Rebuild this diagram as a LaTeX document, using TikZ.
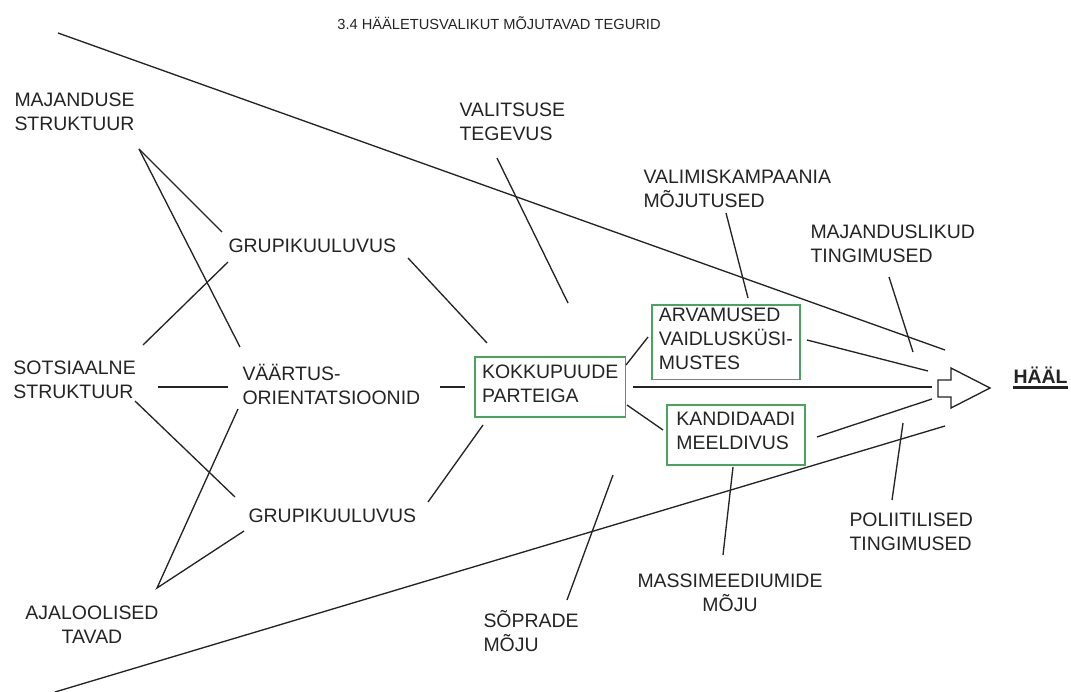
\documentclass[tikz,border=0pt]{standalone}
\usepackage{fontspec}
\setmainfont{Liberation Sans}
\definecolor{boxgreen}{RGB}{72,164,96}
\definecolor{inkgray}{RGB}{36,36,36}
\tikzset{every picture/.style={line width=0.75pt}}
\tikzset{
  lbl/.style={anchor=north west, inner sep=0pt, align=left, text=inkgray,
    font=\fontsize{14.6}{18}\selectfont,
    execute at begin node=\strut, execute at end node=\strut},
  gbox/.style={lbl, draw=boxgreen, line width=1.3pt},
  conn/.style={draw=inkgray, line width=1pt}
}

\begin{document}
\begin{tikzpicture}[x=0.75pt,y=0.75pt,yscale=-1,xscale=1]
	\useasboundingbox (0,0) rectangle (1071,692);
	
	% Title
	\draw (499,30) node [anchor=base, text=inkgray, font=\fontsize{11}{13}\selectfont] (title) {3.4 HÄÄLETUSVALIKUT MÕJUTAVAD TEGURID};
	
	% Text Node
	\draw (14,92) node [lbl] (majstr) {MAJANDUSE\\STRUKTUUR};
	% Text Node
	\draw (13,360) node [lbl] (sotstr) {SOTSIAALNE\\STRUKTUUR};
	% Text Node
	\draw (92,605) node [lbl, anchor=north, align=center] (ajatav) {AJALOOLISED\\TAVAD};
	% Text Node
	\draw (228,235) node [lbl] (grupup) {GRUPIKUULUVUS};
	% Text Node
	\draw (242,364) node [lbl] (vaart) {VÄÄRTUS-\\ORIENTATSIOONID};
	% Text Node
	\draw (248,505) node [lbl] (grupdn) {GRUPIKUULUVUS};
	% Text Node
	\draw (459,102) node [lbl] (valteg) {VALITSUSE\\TEGEVUS};
	% Text Node
	\draw (643,169) node [lbl] (valkam) {VALIMISKAMPAANIA\\MÕJUTUSED};
	% Text Node
	\draw (810,224) node [lbl] (majtin) {MAJANDUSLIKUD\\TINGIMUSED};
	% Text Node
	\draw (483,610) node [lbl] (sopmoj) {SÕPRADE\\MÕJU};
	% Text Node
	\draw (730,573) node [lbl, anchor=north, align=center] (masmoj) {MASSIMEEDIUMIDE\\MÕJU};
	% Text Node
	\draw (849,512) node [lbl] (poltin) {POLIITILISED\\TINGIMUSED};
	% Text Node
	\draw (1013,366) node [lbl, font=\fontsize{14.6}{18}\selectfont\bfseries] (haal) {HÄÄL};
	\draw [inkgray, line width=1.8pt] ([yshift=3pt]haal.base west) -- ([yshift=3pt]haal.base east);
	
	% Boxes
	\draw (474,356) node [gbox, minimum width=113pt, minimum height=45pt] (kok) {KOKKUPUUDE\\PARTEIGA};
	\draw (651,304) node [gbox, minimum width=111pt, minimum height=56pt] (arv) {ARVAMUSED\\VAIDLUSKÜSI-\\MUSTES};
	\draw (666,404) node [gbox, minimum width=103.5pt, minimum height=45pt] (kan) {KANDIDAADI\\MEELDIVUS};
	
	% Line ends
	\coordinate (cone-tl) at (58,33);
	\coordinate (cone-tr) at (945,350);
	\coordinate (cone-bl) at (55,692);
	\coordinate (cone-br) at (945,426);
	\coordinate (maj-apex) at (139,149);
	\coordinate (grupup-nw) at (222,232);
	\coordinate (grupup-sw) at (228,262);
	\coordinate (grupup-e) at (408,258);
	\coordinate (vaart-n) at (240,347);
	\coordinate (vaart-w) at (228,387);
	\coordinate (vaart-sw) at (238,409);
	\coordinate (vaart-e) at (440,387);
	\coordinate (sots-ne) at (143,345);
	\coordinate (sots-e) at (158,387);
	\coordinate (sots-se) at (135,401);
	\coordinate (grupdn-nw) at (235,497);
	\coordinate (grupdn-sw) at (244,531);
	\coordinate (grupdn-e) at (428,502);
	\coordinate (aja-apex) at (157,588);
	\coordinate (kok-nw) at (487,343);
	\coordinate (kok-w) at (465,387);
	\coordinate (kok-sw) at (483,425);
	\coordinate (kok-ne) at (626,365);
	\coordinate (kok-se) at (627,405);
	\coordinate (kok-e) at (633,387);
	\coordinate (arv-w) at (648,337);
	\coordinate (arv-n) at (748,298);
	\coordinate (arv-e) at (807,340);
	\coordinate (kan-w) at (663,430);
	\coordinate (kan-s) at (733,467);
	\coordinate (kan-e) at (817,437);
	\coordinate (valteg-s) at (497,158);
	\coordinate (valteg-end) at (568,303);
	\coordinate (valkam-s) at (726,213);
	\coordinate (sop-n) at (567,600);
	\coordinate (sop-end) at (613,475);
	\coordinate (mas-n) at (723,555);
	\coordinate (majtin-s) at (889,277);
	\coordinate (majtin-end) at (913,352);
	\coordinate (pol-n) at (892,500);
	\coordinate (pol-end) at (903,423);
	\coordinate (vote-nw) at (928,371);
	\coordinate (vote-w) at (932,387);
	\coordinate (vote-sw) at (932,399);
	
	%Straight Lines
	\draw [conn] (cone-tl) -- (cone-tr) ;
	\draw [conn] (cone-bl) -- (cone-br) ;
	%Straight Lines
	\draw [conn] (maj-apex) -- (grupup-nw) ;
	\draw [conn] (maj-apex) -- (vaart-n) ;
	\draw [conn] (sots-ne) -- (grupup-sw) ;
	\draw [conn] (sots-e) -- (vaart-w) ;
	\draw [conn] (sots-se) -- (grupdn-nw) ;
	\draw [conn] (vaart-sw) -- (aja-apex) -- (grupdn-sw) ;
	%Straight Lines
	\draw [conn] (grupup-e) -- (kok-nw) ;
	\draw [conn] (vaart-e) -- (kok-w) ;
	\draw [conn] (grupdn-e) -- (kok-sw) ;
	\draw [conn] (valteg-s) -- (valteg-end) ;
	\draw [conn] (sop-n) -- (sop-end) ;
	%Straight Lines
	\draw [conn] (kok-ne) -- (arv-w) ;
	\draw [conn] (kok-se) -- (kan-w) ;
	\draw [conn] (kok-e) -- (vote-w) ;
	\draw [conn] (valkam-s) -- (arv-n) ;
	\draw [conn] (mas-n) -- (kan-s) ;
	\draw [conn] (arv-e) -- (vote-nw) ;
	\draw [conn] (kan-e) -- (vote-sw) ;
	\draw [conn] (majtin-s) -- (majtin-end) ;
	\draw [conn] (pol-n) -- (pol-end) ;
	
	%Block Arrow
	\draw [conn, line join=miter] (938,380) -- (951,380) -- (951,368) -- (990,388) -- (951,408) -- (951,397) -- (938,397) -- cycle ;
	
\end{tikzpicture}
\end{document}
